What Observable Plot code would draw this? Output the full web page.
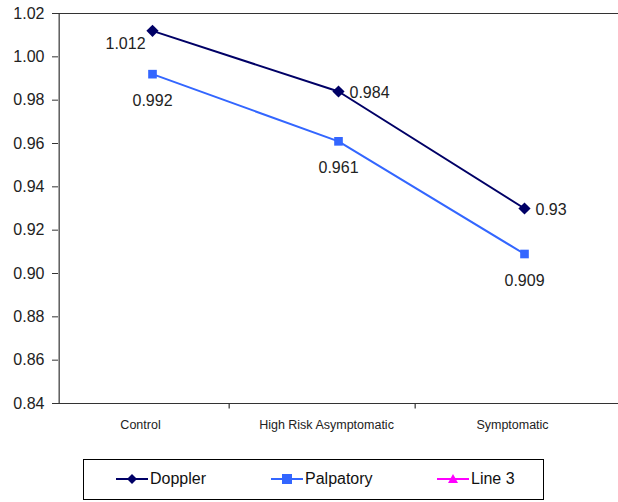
<!DOCTYPE html>
<html><head><meta charset="utf-8">
<script src="https://cdn.jsdelivr.net/npm/d3@7"></script>
<script src="https://cdn.jsdelivr.net/npm/@observablehq/plot@0.6"></script>
<style>
body{margin:0;background:#fff;font-family:"Liberation Sans",Arial,sans-serif;}
#wrap{position:relative;width:618px;height:502px;overflow:hidden;}
#legend{position:absolute;left:83px;top:459px;width:461px;height:41px;border:1px solid #000;box-sizing:border-box;font-size:16px;color:#111;}
.item{position:absolute;top:10px;display:flex;align-items:center;}
</style></head>
<body><div id="wrap"><div id="chart"></div><div id="legend"></div></div>
<script>
const categories = ["Control", "High Risk Asymptomatic", "Symptomatic"];
const doppler = [1.012, 0.984, 0.93];
const palpatory = [0.992, 0.961, 0.909];
const seriesNames = ["Doppler", "Palpatory", "Line 3"];
const colors = {"Doppler": "#000066", "Palpatory": "#3366FF", "Line 3": "#FF00FF"};
const yTicks = [0.84, 0.86, 0.88, 0.90, 0.92, 0.94, 0.96, 0.98, 1.00, 1.02];

const data = [
  ...categories.map((c, i) => ({cat: c, value: doppler[i], series: "Doppler", i})),
  ...categories.map((c, i) => ({cat: c, value: palpatory[i], series: "Palpatory", i}))
];
const dop = data.filter(d => d.series === "Doppler");
const pal = data.filter(d => d.series === "Palpatory");

const W = 618, ML = 58, MR = 0;
const band = (W - ML - MR) / categories.length;

const plot = Plot.plot({
  width: W, height: 440,
  marginLeft: ML, marginRight: MR, marginTop: 13, marginBottom: 37,
  style: {fontFamily: '"Liberation Sans", Arial, sans-serif', color: "#222", background: "white"},
  x: {type: "band", domain: categories, padding: 0, label: null},
  y: {type: "linear", domain: [0.84, 1.02], label: null},
  marks: [
    Plot.axisY({ticks: yTicks, tickFormat: d3.format(".2f"), tickSize: 6, fontSize: 16, tickPadding: 8, stroke: "#333", fill: "#222"}),
    Plot.axisX({tickSize: 0, fontSize: 12.5, tickPadding: 17, dx: -12, fill: "#222", style: "letter-spacing:0.5px"}),
    Plot.ruleY([0.84, 1.02], {stroke: "#333", strokeWidth: 1.2}),
    Plot.ruleX([categories[0]], {dx: -band / 2, stroke: "#333", strokeWidth: 1.2}),
    Plot.ruleX(categories.slice(1), {y1: 0.84, y2: 0.8375, dx: -band / 2 - 16, stroke: "#333", strokeWidth: 1.2}),
    Plot.line(dop, {x: "cat", y: "value", stroke: colors.Doppler, strokeWidth: 2}),
    Plot.line(pal, {x: "cat", y: "value", stroke: colors.Palpatory, strokeWidth: 2}),
    Plot.dot(dop, {x: "cat", y: "value", symbol: "diamond2", r: 5.5, fill: colors.Doppler, stroke: "none"}),
    Plot.dot(pal, {x: "cat", y: "value", symbol: "square2", r: 5.5, fill: colors.Palpatory, stroke: "none"}),
    Plot.text(dop.filter(d => d.i === 0), {x: "cat", y: "value", text: d => String(d.value), dx: -27, dy: 13, fontSize: 16, fill: "#222"}),
    Plot.text(dop.filter(d => d.i > 0), {x: "cat", y: "value", text: d => String(d.value), dx: 11, dy: 1, textAnchor: "start", fontSize: 16, fill: "#222"}),
    Plot.text(pal, {x: "cat", y: "value", text: d => String(d.value), dx: 0, dy: 27, fontSize: 16, fill: "#222"})
  ]
});
document.getElementById("chart").appendChild(plot);

const legend = document.getElementById("legend");
const lefts = [32, 187, 353];
const shapes = {
  "Doppler": c => `<path d="M12,3 L17,8 L12,13 L7,8Z" fill="${c}"/>`,
  "Palpatory": c => `<rect x="7" y="3" width="10" height="10" fill="${c}"/>`,
  "Line 3": c => `<path d="M12,3 L17,12 L7,12Z" fill="${c}"/>`
};
seriesNames.forEach((s, i) => {
  const el = document.createElement("div");
  el.className = "item";
  el.style.left = lefts[i] + "px";
  el.innerHTML = `<svg width="32" height="16"><line x1="0" y1="8" x2="32" y2="8" stroke="${colors[s]}" stroke-width="2"/><g transform="translate(4,0)">${shapes[s](colors[s])}</g></svg><span style="margin-left:2px">${s}</span>`;
  legend.appendChild(el);
});
</script></body></html>
